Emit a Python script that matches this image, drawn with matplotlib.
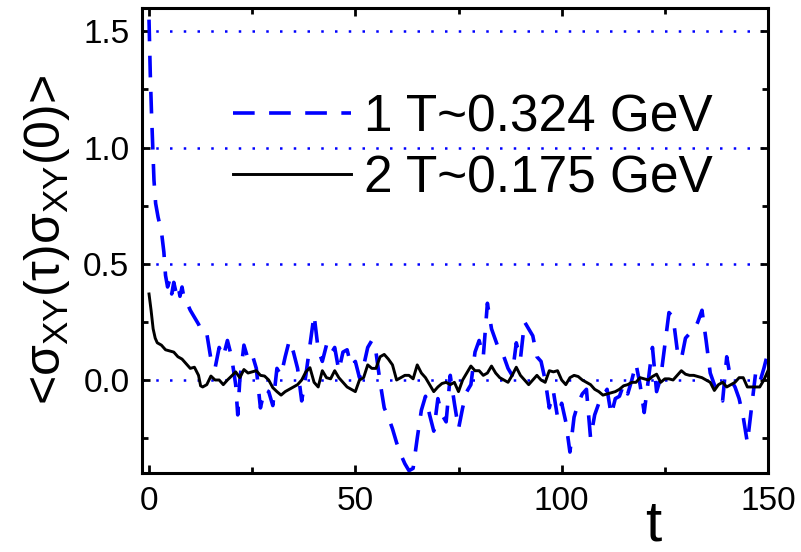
import matplotlib
matplotlib.use("Agg")
import matplotlib.pyplot as plt
from matplotlib.ticker import MultipleLocator

plt.rcParams['font.family'] = ['Liberation Sans', 'DejaVu Sans']
plt.rcParams['mathtext.fontset'] = 'custom'
plt.rcParams['mathtext.rm'] = 'Liberation Sans'
plt.rcParams['mathtext.it'] = 'Liberation Sans'
plt.rcParams['mathtext.bf'] = 'Liberation Sans:bold'

# series 1: T~0.324 GeV (blue dashed)
t_blue = [0, 0.3, 0.6, 0.9, 1.2, 1.6, 2.2, 3.0, 3.6, 4.0, 4.5, 5, 5.5, 6, 6.5, 7, 7.5, 8, 8.5, 9,
          10, 11, 12, 13, 14, 15, 16, 17, 18, 19, 20, 21, 21.5, 22, 23, 24, 25, 26, 27, 28,
          29, 30, 31, 32, 33, 34, 35, 36, 37, 38, 39, 40, 41, 42, 43, 44, 45, 46, 47, 48,
          49, 50, 51, 52, 53, 54, 55, 56, 57, 58, 59, 60, 61, 62, 63, 64, 65, 66, 67, 68,
          69, 70, 71, 72, 73, 74, 75, 76, 77, 78, 79, 80, 81, 82, 83, 84, 85, 86, 87, 88,
          89, 90, 91, 92, 93, 94, 95, 96, 97, 98, 99, 100, 101, 102, 103, 104, 105, 106, 107, 108,
          109, 110, 111, 112, 113, 114, 115, 116, 117, 118, 119, 120, 121, 122, 123, 124, 125, 126, 127, 128,
          129, 130, 131, 132, 133, 134, 135, 136, 137, 138, 139, 140, 141, 142, 143, 144, 145, 146, 147, 148,
          149, 150]
v_blue = [1.55, 1.32, 1.15, 1.0, 0.86, 0.76, 0.70, 0.64, 0.55, 0.45, 0.40, 0.43, 0.37, 0.42, 0.38, 0.41, 0.36, 0.40, 0.35, 0.34,
          0.30, 0.27, 0.24, 0.20, 0.20, 0.09, 0.05, 0.14, 0.10, 0.17, 0.10, -0.02, -0.15, 0.0, 0.15, 0.09, 0.11, 0.05, -0.12, -0.04,
          -0.05, -0.11, 0.05, 0.02, 0.10, 0.17, 0.12, 0.05, -0.09, 0.02, 0.15, 0.28, 0.13, 0.08, 0.15, 0.11, 0.14, 0.04, 0.12, 0.13,
          0.06, 0.08, 0.01, 0.06, 0.14, 0.17, 0.12, -0.01, -0.12, -0.16, -0.21, -0.27, -0.32, -0.36, -0.39, -0.38, -0.25, -0.13, -0.07, -0.15,
          -0.22, -0.08, -0.15, -0.18, 0.02, -0.10, -0.21, -0.12, -0.05, -0.02, 0.12, 0.17, 0.10, 0.33, 0.22, 0.17, 0.12, 0.10, 0.05, 0.02,
          0.16, 0.09, 0.25, 0.22, 0.19, 0.10, 0.08, 0.0, -0.12, -0.05, -0.16, -0.10, -0.18, -0.31, -0.16, -0.10, -0.06, -0.04, -0.25, -0.15,
          -0.10, -0.07, -0.04, -0.15, -0.08, -0.07, -0.02, -0.06, 0.0, 0.07, -0.02, -0.14, 0.0, 0.14, -0.05, 0.01, 0.15, 0.29, 0.27, 0.13,
          0.09, 0.18, 0.20, 0.21, 0.25, 0.30, 0.17, 0.03, -0.02, -0.05, -0.09, 0.10, 0.0, -0.03, -0.08, -0.16, -0.27, -0.12, 0.03, -0.01,
          0.05, 0.12]

# series 2: T~0.175 GeV (black solid)
t_black = [0, 0.5, 1, 1.5, 2, 3, 4, 5, 6, 7, 8, 9, 10, 11, 12, 12.5, 13, 14, 15, 16,
           17, 18, 19, 20, 21, 22, 23, 24, 25, 26, 27, 28, 29, 30, 31, 32, 33, 34, 35, 36,
           37, 38, 39, 40, 41, 42, 43, 44, 45, 46, 47, 48, 49, 50, 51, 52, 53, 54, 55, 56,
           57, 58, 59, 60, 61, 62, 63, 64, 65, 66, 67, 68, 69, 70, 71, 72, 73, 74, 75, 76,
           77, 78, 79, 80, 81, 82, 83, 84, 85, 86, 87, 88, 89, 90, 91, 92, 93, 94, 95, 96,
           97, 98, 99, 100, 101, 102, 103, 104, 105, 106, 107, 108, 109, 110, 111, 112, 113, 114, 115, 116,
           117, 118, 119, 120, 121, 122, 123, 124, 125, 126, 127, 128, 129, 130, 131, 132, 133, 134, 135, 136,
           137, 138, 139, 140, 141, 142, 143, 144, 145, 146, 147, 148, 149, 150]
v_black = [0.37, 0.30, 0.22, 0.18, 0.16, 0.15, 0.13, 0.125, 0.12, 0.10, 0.09, 0.07, 0.05, 0.055, 0.02, -0.025, -0.03, -0.02, 0.017, 0.0,
           0.0, -0.02, 0.0, 0.017, 0.035, 0.01, 0.045, 0.03, 0.035, 0.04, 0.02, 0.017, 0.0, -0.033, -0.05, -0.065, -0.05, -0.04, -0.03, -0.02,
           0.0, 0.035, 0.053, -0.01, -0.03, 0.04, 0.01, 0.005, 0.04, 0.01, -0.01, -0.03, -0.04, -0.05, 0.0, 0.01, 0.065, 0.05, 0.05, 0.10,
           0.11, 0.09, 0.065, 0.0, 0.01, 0.02, 0.02, 0.005, 0.065, 0.03, 0.01, -0.02, -0.05, -0.03, -0.015, -0.01, -0.02, -0.01, -0.05, 0.0,
           0.03, 0.06, 0.04, 0.04, 0.02, 0.03, 0.06, 0.03, 0.01, 0.0, -0.01, 0.02, 0.055, 0.02, 0.0, -0.02, 0.0, 0.02, 0.0, -0.01,
           0.04, 0.035, 0.04, 0.0, -0.02, 0.01, 0.02, 0.015, 0.0, -0.01, -0.02, -0.04, -0.05, -0.065, -0.06, -0.055, -0.05, -0.04, -0.025, -0.02,
           -0.01, -0.01, 0.01, 0.005, 0.0, 0.015, 0.025, -0.01, 0.005, 0.005, 0.0, 0.02, 0.04, 0.025, 0.02, 0.02, 0.015, 0.01, 0.0, -0.01,
           -0.045, -0.02, -0.01, -0.03, -0.02, -0.01, 0.01, 0.01, -0.03, -0.03, -0.03, -0.03, 0.0, 0.04]

labels = ['1 T~0.324 GeV', '2 T~0.175 GeV']

fig = plt.figure(figsize=(8.01, 5.52), dpi=100)
ax = fig.add_axes([142 / 801, 79 / 552, 626 / 801, 465 / 552])

for y in [0.0, 0.5, 1.0, 1.5]:
    ax.axhline(y, color='#0000ff', lw=1.8, linestyle=(0, (1, 4.5)), zorder=1)

ax.plot(t_blue, v_blue, color='#0000ff', lw=2.6, linestyle=(0, (6, 4)), label=labels[0], zorder=2)
ax.plot(t_black, v_black, color='black', lw=2.1, label=labels[1], zorder=3)

ax.set_xlim(-1.7, 150)
ax.set_ylim(-0.4, 1.6)
ax.xaxis.set_major_locator(MultipleLocator(50))
ax.xaxis.set_minor_locator(MultipleLocator(25))
ax.yaxis.set_major_locator(MultipleLocator(0.5))
ax.yaxis.set_minor_locator(MultipleLocator(0.25))
ax.tick_params(which='both', direction='in', top=True, right=True, width=2, labelsize=24)
ax.tick_params(which='major', length=6, pad=9)
ax.tick_params(which='minor', length=4.5)
for s in ax.spines.values():
    s.set_linewidth(2.2)

ax.set_xlabel('t', fontsize=42)
ax.xaxis.set_label_coords(0.816, -0.055)
ax.set_ylabel(r'<$\sigma_{XY}$($\tau$)$\sigma_{XY}$(0)>', fontsize=36)
ax.yaxis.set_label_coords(-0.112, 0.5)

ax.legend(loc='upper left', bbox_to_anchor=((233 - 142) / 626, 0.817), frameon=False,
          fontsize=37, handlelength=2.3, handletextpad=0.25, labelspacing=0.24,
          borderpad=0, borderaxespad=0)

fig.savefig('out.png', dpi=100)
